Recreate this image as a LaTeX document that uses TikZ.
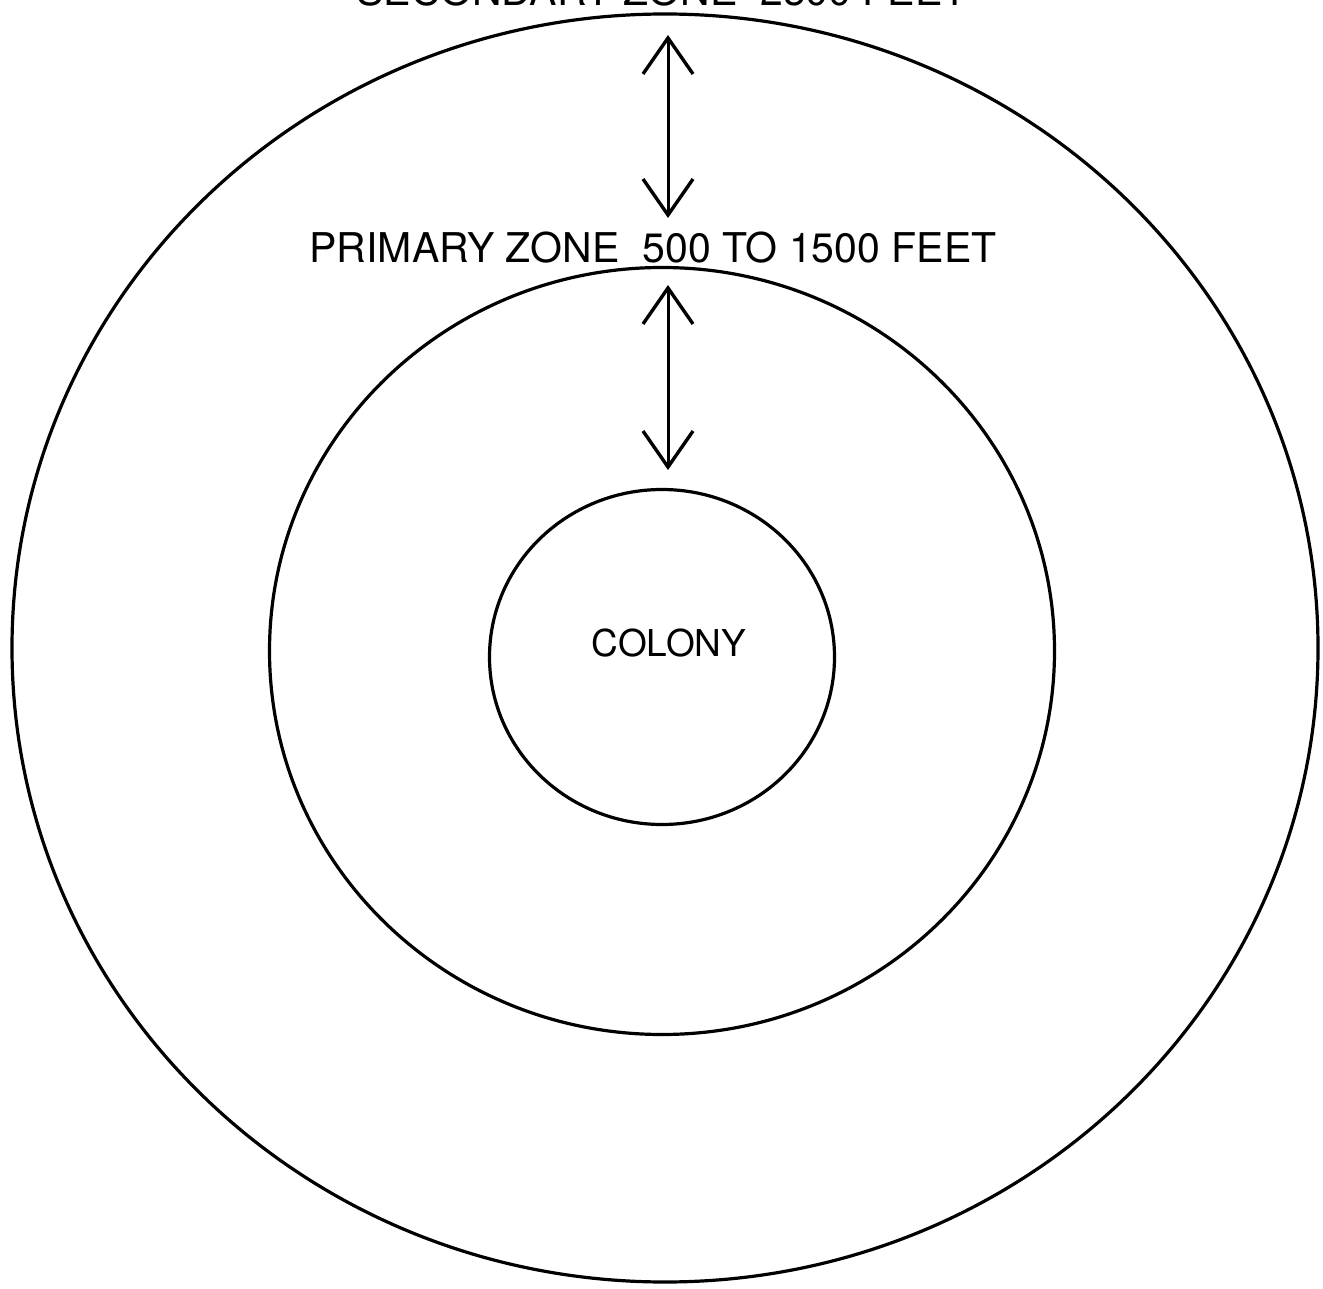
\documentclass[tikz,border=0pt]{standalone}
\usepackage{fontspec}
\setmainfont{TeX Gyre Heros}
\usetikzlibrary{arrows.meta,shapes.geometric}

\begin{document}
\begin{tikzpicture}[x=1pt, y=-1pt,
  zone/.style={draw, ellipse, line width=3.2pt, inner sep=0pt, outer sep=0pt},
  lab/.style={font=\fontsize{41}{48}\selectfont, anchor=base, inner sep=0pt},
  arr/.style={{Straight Barb[length=36pt,width=50pt,line width=3.4pt]}-{Straight Barb[length=36pt,width=50pt,line width=3.4pt]}, line width=3pt}]
  \useasboundingbox (0,0) rectangle (1323,1289);
  % zones, outer to inner
  \node[zone, minimum width=1306pt, minimum height=1268pt] (secondary) at (665,648) {};
  \node[zone, minimum width=785pt, minimum height=767pt] (primary) at (662,651) {};
  \node[zone, minimum width=345pt, minimum height=335pt] (colony) at (662,657) {};
  \node[lab, font=\fontsize{37}{44}\selectfont] (colonylab) at (669,656) {COLONY};
  % labels
  \node[lab] (seclab) at (662,6) {SECONDARY ZONE\ \ 2500 FEET};
  \node[lab] (primlab) at (653,263) {PRIMARY ZONE\ \ 500 TO 1500 FEET};
  % distance arrows
  \coordinate (s1) at (668,35);
  \coordinate (s2) at (668,218);
  \coordinate (p1) at (668,285);
  \coordinate (p2) at (668,470);
  \draw[arr] (s1) -- (s2);
  \draw[arr] (p1) -- (p2);
\end{tikzpicture}
\end{document}
